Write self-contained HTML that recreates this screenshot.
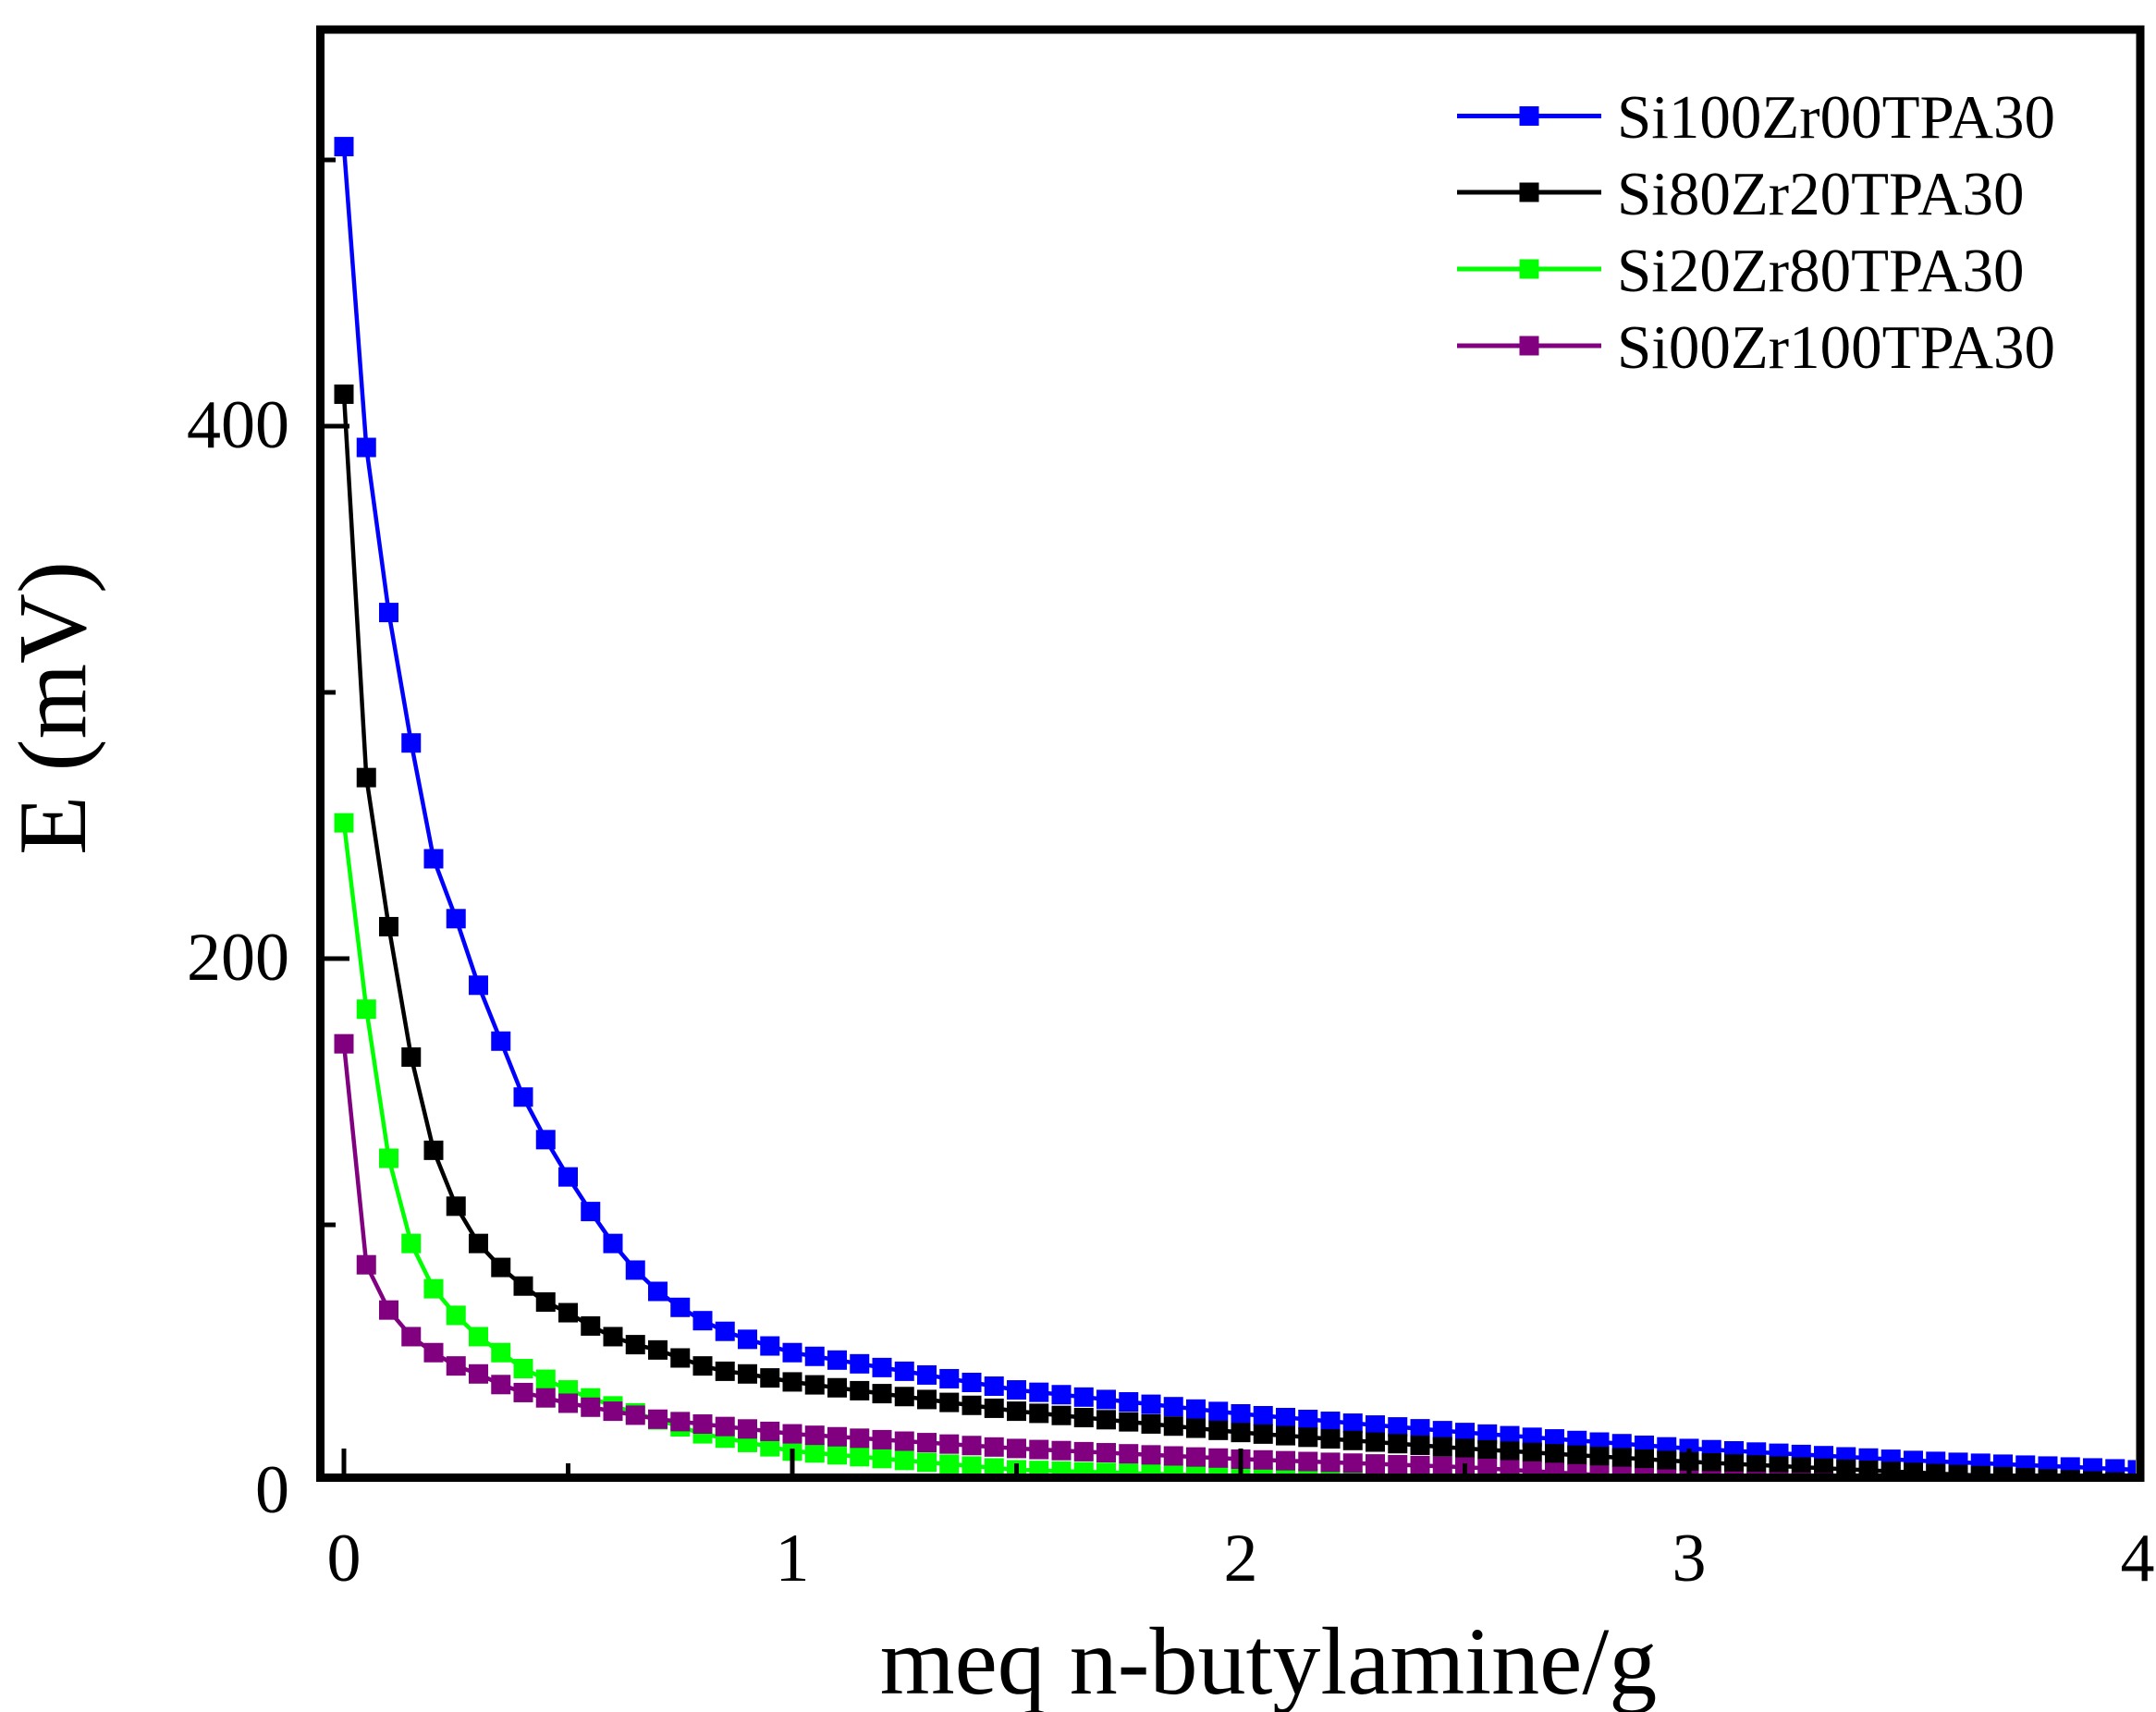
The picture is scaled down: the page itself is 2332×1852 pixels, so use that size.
<!DOCTYPE html>
<html><head><meta charset="utf-8"><style>
html,body{margin:0;padding:0;background:#fff}
svg{display:block}
text{font-family:"Liberation Serif",serif;fill:#000}
</style></head><body>
<svg id="s" width="2332" height="1852" viewBox="0 0 2332 1852" xmlns="http://www.w3.org/2000/svg">
<defs><clipPath id="c"><rect x="351" y="36" width="1959" height="1558"/></clipPath></defs>
<g id="data" clip-path="url(#c)"></g>
<g id="ticks" stroke="#000" stroke-width="5"></g>
<rect x="346.5" y="32" width="1968.5" height="1566.5" fill="none" stroke="#000" stroke-width="9"/>
<g font-size="74" text-anchor="end">
<text x="313" y="1636">0</text>
<text x="313" y="1060">200</text>
<text x="313" y="484">400</text>
</g>
<g font-size="74" text-anchor="middle">
<text x="372" y="1710">0</text>
<text x="857" y="1710">1</text>
<text x="1342" y="1710">2</text>
<text x="1827" y="1710">3</text>
<text x="2312" y="1710">4</text>
</g>
<text x="1372" y="1832" font-size="104" text-anchor="middle">meq n-butylamine/g</text>
<text transform="translate(92,766) rotate(-90)" font-size="105" text-anchor="middle">E (mV)</text>
<g font-size="67">
<line x1="1576" y1="125.5" x2="1732" y2="125.5" stroke="#0000ff" stroke-width="5"/><rect x="1643.5" y="115" width="21" height="21" fill="#0000ff"/>
<text x="1749" y="149">Si100Zr00TPA30</text>
<line x1="1576" y1="208" x2="1732" y2="208" stroke="#000" stroke-width="5"/><rect x="1643.5" y="197.5" width="21" height="21" fill="#000"/>
<text x="1749" y="232">Si80Zr20TPA30</text>
<line x1="1576" y1="291" x2="1732" y2="291" stroke="#00ff00" stroke-width="5"/><rect x="1643.5" y="280.5" width="21" height="21" fill="#00ff00"/>
<text x="1749" y="315">Si20Zr80TPA30</text>
<line x1="1576" y1="374" x2="1732" y2="374" stroke="#800080" stroke-width="5"/><rect x="1643.5" y="363.5" width="21" height="21" fill="#800080"/>
<text x="1749" y="398">Si00Zr100TPA30</text>
</g>
</svg>
<script>
(function(){
var NS="http://www.w3.org/2000/svg";
function X(v){return 372+v*485;}
function Y(v){return 1613-v*2.88;}
var series=[
 ["#0000ff",[[0,505],[0.05,392],[0.1,330],[0.15,281],[0.2,237.5],[0.25,215],[0.3,190],[0.35,169],[0.4,148],[0.45,132],[0.5,118],[0.55,105],[0.6,93],[0.65,83],[0.7,75],[0.75,69],[0.8,64],[0.85,60],[0.9,57],[1,52],[1.5,38],[2,29],[2.5,22],[3,16],[3.5,11.5],[4,8]]],
 ["#000000",[[0,412],[0.05,268],[0.1,212],[0.15,163],[0.2,128],[0.25,107],[0.3,93],[0.35,84],[0.4,77],[0.45,71],[0.5,67],[0.55,62],[0.6,58],[0.65,55],[0.7,53],[0.75,50],[0.8,47],[0.85,45],[0.9,44],[1,41],[1.5,30],[2,22],[2.5,16],[3,11],[3.5,7],[4,3]]],
 ["#00ff00",[[0,251],[0.05,181],[0.1,125],[0.15,93],[0.2,76],[0.25,66],[0.3,58],[0.35,52],[0.4,46],[0.45,42],[0.5,38],[0.6,32],[0.8,21.5],[1,15],[1.5,8],[2,5.5],[2.5,3],[3,0.5],[4,0]]],
 ["#800080",[[0,168],[0.05,85],[0.1,68],[0.15,58],[0.2,52],[0.25,47],[0.3,44],[0.35,40],[0.4,37],[0.5,33],[0.7,27],[1,21.5],[1.5,16],[2,12],[2.5,9],[3,4],[3.5,2.5],[4,2]]]
];
function interp(a,x){
 for(var i=0;i<a.length-1;i++){if(x<=a[i+1][0]+1e-9){var t=(x-a[i][0])/(a[i+1][0]-a[i][0]);return a[i][1]+t*(a[i+1][1]-a[i][1]);}}
 return a[a.length-1][1];
}
var g=document.getElementById("data");
series.forEach(function(s){
 var pts=[];for(var i=0;i<=80;i++){var x=i*0.05;pts.push([X(x),Y(interp(s[1],x))]);}
 var p=document.createElementNS(NS,"polyline");
 p.setAttribute("points",pts.map(function(q){return q[0].toFixed(1)+","+q[1].toFixed(1)}).join(" "));
 p.setAttribute("fill","none");p.setAttribute("stroke",s[0]);p.setAttribute("stroke-width","4.5");
 g.appendChild(p);
 pts.forEach(function(q){var r=document.createElementNS(NS,"rect");
  r.setAttribute("x",q[0]-10.5);r.setAttribute("y",q[1]-10.5);r.setAttribute("width",21);r.setAttribute("height",21);r.setAttribute("fill",s[0]);g.appendChild(r);});
});
var t=document.getElementById("ticks");
function ln(x1,y1,x2,y2){var l=document.createElementNS(NS,"line");l.setAttribute("x1",x1);l.setAttribute("y1",y1);l.setAttribute("x2",x2);l.setAttribute("y2",y2);t.appendChild(l);}
for(var v=0;v<=500;v+=100){var y=Y(v);if(y>1594)continue;ln(351,y,(v%200==0)?378:363,y);}
for(var k=0;k<=8;k++){var x=X(k*0.5);if(x>2310)continue;ln(x,1594,x,(k%2==0)?1567:1583);}
})();
</script>
</body></html>
